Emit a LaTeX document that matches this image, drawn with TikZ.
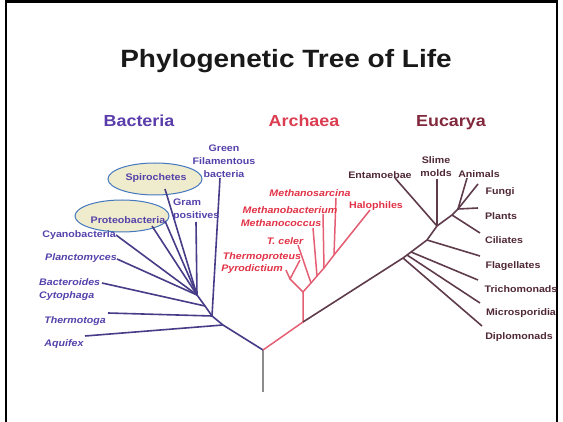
\documentclass[tikz,border=0pt]{standalone}
\usepackage{fontspec}
\setmainfont{Liberation Sans}[FakeStretch=1.12]
\usetikzlibrary{shapes.geometric}
\definecolor{bactline}{RGB}{70,60,135}
\definecolor{bacttext}{RGB}{85,65,170}
\definecolor{archline}{RGB}{228,95,115}
\definecolor{archtext}{RGB}{225,50,70}
\definecolor{eukline}{RGB}{95,60,75}
\definecolor{euktext}{RGB}{80,40,55}
\definecolor{ellfill}{RGB}{238,236,205}
\definecolor{ellline}{RGB}{70,120,190}
\definecolor{rootline}{RGB}{140,140,140}
\definecolor{titletext}{RGB}{25,25,25}
\definecolor{bacthead}{RGB}{90,60,170}
\definecolor{archhead}{RGB}{220,60,80}
\definecolor{eukhead}{RGB}{130,40,60}
\begin{document}
\begin{tikzpicture}[x=1pt,y=-1pt,
  bline/.style={draw=bactline,line width=1.6pt},
  aline/.style={draw=archline,line width=1.5pt},
  eline/.style={draw=eukline,line width=1.6pt},
  small/.style={inner sep=0pt,font=\fontsize{9.5}{13}\selectfont\bfseries},
  btxt/.style={small,text=bacttext},
  atxt/.style={small,text=archtext,font=\fontsize{9.5}{13}\selectfont\bfseries\itshape},
  etxt/.style={small,text=euktext},
  head/.style={inner sep=0pt,anchor=base,font=\fontsize{16}{18}\selectfont\bfseries},
  ellbox/.style={ellipse,draw=ellline,fill=ellfill,line width=1pt,inner sep=0pt,minimum width=94pt,minimum height=32pt}
]
\useasboundingbox (0,0) rectangle (563,422);
% frame
\draw[line width=2.5pt] (6,422) -- (6,1.5) -- (557,1.5) -- (557,422);
% title and headings
\node[inner sep=0pt,anchor=base,text=titletext,font=\fontsize{25}{28}\selectfont\bfseries] (title) at (286,68) {Phylogenetic Tree of Life};
\node[head,text=bacthead] (hbact) at (139,127) {Bacteria};
\node[head,text=archhead] (harch) at (304,127) {Archaea};
\node[head,text=eukhead] (heuk) at (451,127) {Eucarya};
% ellipses
\node[ellbox] (spiEll) at (155,179) {};
\node[ellbox] (proEll) at (122,216) {};
% coordinates
\coordinate (R) at (263,350);
\coordinate (Rb) at (263,392);
\coordinate (B1) at (223,325);
\coordinate (B2) at (212,316);
\coordinate (B3) at (205,306);
\coordinate (B4) at (197,295);
\coordinate (aquE) at (85,336);
\coordinate (theE) at (108,313);
\coordinate (greE) at (220,178);
\coordinate (bacE) at (102,283);
\coordinate (pcmE) at (117,259);
\coordinate (cyaE) at (116,235);
\coordinate (proE1) at (152,226);
\coordinate (proE2) at (165,221);
\coordinate (spiE) at (165,189);
\coordinate (graE) at (196,222);
\coordinate (AJ) at (303,322);
\coordinate (A0) at (303,292);
\coordinate (AL) at (290,279);
\coordinate (thpE) at (300,260);
\coordinate (pyrE) at (286,270);
\coordinate (a1) at (311,283);
\coordinate (a2) at (317,276);
\coordinate (a3) at (324,268);
\coordinate (a4) at (334,255);
\coordinate (tceE) at (298,245);
\coordinate (mcoE) at (313,228);
\coordinate (mbaE) at (323,214);
\coordinate (msaE) at (336,198);
\coordinate (halE) at (370,210);
\coordinate (E1) at (403,258);
\coordinate (Emi) at (407,255);
\coordinate (Etr) at (411,252);
\coordinate (Efl) at (427,240);
\coordinate (E2) at (437,226);
\coordinate (E3) at (452,215);
\coordinate (E4) at (458,209);
\coordinate (dipE) at (482,326);
\coordinate (micE) at (480,303);
\coordinate (triE) at (478,280);
\coordinate (flaE) at (480,256);
\coordinate (entE) at (395,178);
\coordinate (sliE) at (437,179);
\coordinate (cilE) at (480,233);
\coordinate (pltE) at (478,208);
\coordinate (funE) at (478,184);
\coordinate (aniE) at (467,178);
% root
\draw[draw=rootline,line width=1.8pt] (R) -- (Rb);
% bacteria
\draw[bline] (R) -- (B1) -- (B2) -- (B3) -- (B4);
\draw[bline] (aquE) -- (B1);
\draw[bline] (theE) -- (B2);
\draw[bline] (greE) -- (B2);
\draw[bline] (bacE) -- (B3);
\draw[bline] (pcmE) -- (B4);
\draw[bline] (cyaE) -- (B4);
\draw[bline] (proE1) -- (B4);
\draw[bline] (proE2) -- (B4);
\draw[bline] (spiE) -- (B4);
\draw[bline] (graE) -- (B4);
% archaea
\draw[aline] (R) -- (AJ) -- (A0);
\draw[aline] (A0) -- (AL) -- (thpE);
\draw[aline] (AL) -- (pyrE);
\draw[aline] (A0) -- (a1) -- (a2) -- (a3) -- (a4);
\draw[aline] (tceE) -- (a1);
\draw[aline] (mcoE) -- (a2);
\draw[aline] (mbaE) -- (a3);
\draw[aline] (msaE) -- (a4);
\draw[aline] (halE) -- (a4);
% eucarya
\draw[eline] (AJ) -- (E1) -- (Emi) -- (Etr) -- (Efl) -- (E2) -- (E3) -- (E4);
\draw[eline] (E1) -- (dipE);
\draw[eline] (Emi) -- (micE);
\draw[eline] (Etr) -- (triE);
\draw[eline] (Efl) -- (flaE);
\draw[eline] (entE) -- (E2);
\draw[eline] (sliE) -- (E2);
\draw[eline] (E3) -- (cilE);
\draw[eline] (E4) -- (pltE);
\draw[eline] (E4) -- (funE);
\draw[eline] (E4) -- (aniE);
% bacteria labels
\node[btxt,align=center] (green) at (224,161) {Green\\Filamentous\\bacteria};
\node[btxt] (spiro) at (156,178) {Spirochetes};
\node[btxt,align=left,anchor=west] (gram) at (173,210) {Gram\\positives};
\node[btxt] (proteo) at (128,220) {Proteobacteria};
\node[btxt,anchor=east] (cyano) at (116,235) {Cyanobacteria};
\node[btxt,anchor=east,font=\fontsize{9.5}{13}\selectfont\bfseries\itshape] (plancto) at (117,258) {Planctomyces};
\node[btxt,align=left,anchor=west,font=\fontsize{9.5}{13}\selectfont\bfseries\itshape] (bactero) at (39,290) {Bacteroides\\Cytophaga};
\node[btxt,font=\fontsize{9.5}{13}\selectfont\bfseries\itshape] (thermo) at (75,321) {Thermotoga};
\node[btxt,font=\fontsize{9.5}{13}\selectfont\bfseries\itshape] (aquifex) at (64,344) {Aquifex};
% archaea labels
\node[atxt] (msarc) at (310,193) {Methanosarcina};
\node[atxt] (mbact) at (290,210) {Methanobacterium};
\node[atxt] (mcocc) at (281,223) {Methanococcus};
\node[atxt] (tceler) at (285,241) {T. celer};
\node[atxt] (thprot) at (262,257) {Thermoproteus};
\node[atxt] (pyrod) at (252,269) {Pyrodictium};
\node[small,text=archtext] (halo) at (376,206) {Halophiles};
% eucarya labels
\node[etxt] (entam) at (380,175) {Entamoebae};
\node[etxt,align=center] (slime) at (436,167) {Slime\\molds};
\node[etxt] (anim) at (479,174) {Animals};
\node[etxt] (fungi) at (500,192) {Fungi};
\node[etxt] (plants) at (501,216) {Plants};
\node[etxt] (cili) at (504,240) {Ciliates};
\node[etxt] (flag) at (513,266) {Flagellates};
\node[etxt] (trich) at (521,289) {Trichomonads};
\node[etxt] (micro) at (521,313) {Microsporidia};
\node[etxt] (diplo) at (519,337) {Diplomonads};
\end{tikzpicture}
\end{document}
